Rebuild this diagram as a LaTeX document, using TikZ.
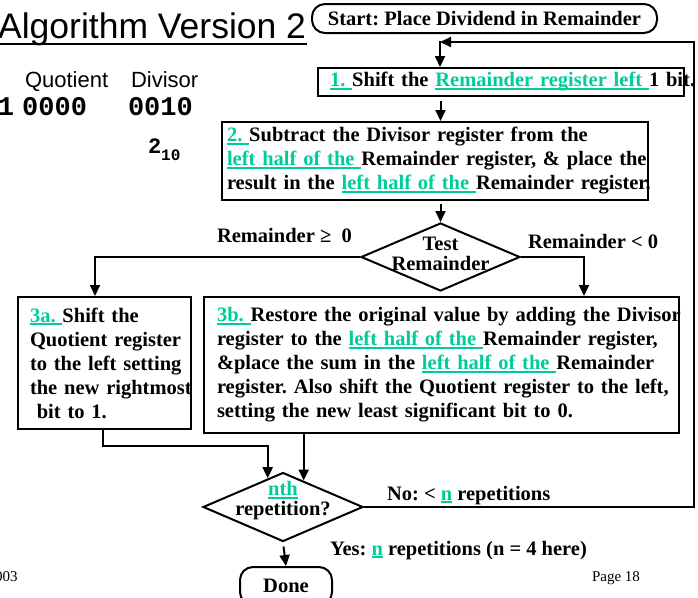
\documentclass[tikz,border=0pt]{standalone}
\usepackage{fontspec}
\setmainfont{Liberation Serif}
\newfontfamily\arialfont{Liberation Sans}
\newfontfamily\monofont{Liberation Mono}
\usetikzlibrary{shapes.geometric,arrows.meta}
\definecolor{grn}{RGB}{0,204,153}
\frenchspacing
\newcommand{\flowfont}{\fontsize{20.5}{24}\selectfont\bfseries}
\newcommand{\gul}[1]{{\color{grn}\setbox0\hbox{#1}\rlap{\rule[-3pt]{\wd0}{1.6pt}}\box0}}
\begin{document}
\begin{tikzpicture}[x=1pt,y=-1pt,line width=2pt,
  arr/.style={-{Triangle[length=11pt,width=10pt]}},
  box/.style={draw,rectangle,inner ysep=0pt,align=left,font=\flowfont},
  term/.style={draw,rounded corners=13pt,inner sep=0pt,font=\flowfont},
  dia/.style={draw,diamond,inner sep=0pt},
  lbl/.style={inner sep=0pt,font=\flowfont}]
  \useasboundingbox (0,0) rectangle (698,597);
  \clip (0,0) rectangle (698,597);
  \node[inner sep=0pt,anchor=base east,font=\fontsize{35.5}{35.5}\arialfont] (ttl) at (307,38) {Algorithm Version 2};
  \draw[line width=2.2pt] ([yshift=-6pt]ttl.base west) -- ([yshift=-6pt]ttl.base east);
  \node[inner sep=0pt,anchor=base west,font=\fontsize{22}{22}\arialfont] (quo) at (24,87) {Quotient};
  \node[inner sep=0pt,anchor=base west,font=\fontsize{22}{22}\arialfont] (div) at (130,87) {Divisor};
  \node[inner sep=0pt,anchor=base west,font=\fontsize{27}{27}\monofont\bfseries] (quov) at (-3,115) {1\hspace{8pt}0000};
  \node[inner sep=0pt,anchor=base west,font=\fontsize{27}{27}\monofont\bfseries] (divv) at (127,115) {0010};
  \node[inner sep=0pt,anchor=base west,font=\fontsize{22}{22}\monofont\bfseries] (dec) at (147,153) {2\raisebox{-7pt}{\fontsize{16}{16}\monofont 10}};
  \node[term,minimum width=345pt,minimum height=29pt] (start) at (484.5,18.5) {Start: Place Dividend in Remainder};
  \node[box,text width=342pt,inner xsep=12pt,minimum height=28pt] (box1) at (501,82)
    {\mbox{\gul{1. }Shift the \gul{Remainder register left }1 bit.}};
  \node[box,text width=416pt,inner xsep=5pt,minimum height=78pt] (box2) at (435,161)
    {\mbox{\gul{2. }Subtract the Divisor register from the}\\
     \mbox{\gul{left half of the }Remainder register, \& place the}\\
     \mbox{result in the \gul{left half of the }Remainder register.}};
  \node[dia,minimum width=159pt,minimum height=68pt] (test) at (440.5,257) {};
  \node[lbl,align=center,font=\fontsize{20.5}{20}\selectfont\bfseries] (testtxt) at ([yshift=3pt]test.center) {Test\\Remainder};
  \node[box,text width=149pt,inner xsep=12pt,minimum height=132pt] (box3a) at (104.5,363)
    {\mbox{\gul{3a. }Shift the}\\
     \mbox{Quotient register}\\
     \mbox{to the left setting}\\
     \mbox{the new rightmost}\\
     \mbox{\ bit to 1.}};
  \node[box,text width=449pt,inner xsep=13pt,minimum height=136pt] (box3b) at (441.5,365)
    {\mbox{\gul{3b. }Restore the original value by adding the Divisor}\\
     \mbox{register to the \gul{left half of the }Remainder register,}\\
     \mbox{\&place the sum in the \gul{left half of the }Remainder}\\
     \mbox{register. Also shift the Quotient register to the left,}\\
     \mbox{setting the new least significant bit to 0.}};
  \node[dia,minimum width=160pt,minimum height=69pt] (nth) at (283,507) {};
  \node[lbl,align=center,font=\fontsize{20.5}{20}\selectfont\bfseries] (nthtxt) at ([yshift=6pt]nth.center) {\gul{nth}\\repetition?};
  \node[term,minimum width=92pt,minimum height=38pt] (done) at (286,586) {Done};
  \node[lbl,anchor=base west] (ge) at (216,242) {Remainder ≥\ \ 0};
  \node[lbl,anchor=base west] (lt) at (527,248) {Remainder < 0};
  \node[lbl,anchor=base west] (no) at (386,500) {No: < \gul{n} repetitions};
  \node[lbl,anchor=base west] (yes) at (329,555) {Yes: \gul{n} repetitions (n = 4 here)};
  \node[inner sep=0pt,anchor=base west,font=\fontsize{15}{15}\selectfont] (yr) at (-6,581) {003};
  \node[inner sep=0pt,anchor=base west,font=\fontsize{15}{15}\selectfont] (pg) at (591,581) {Page 18};
  \coordinate (loopin) at (440,42);
  \coordinate (rt) at (694,42);
  \coordinate (c3a) at (95,0);
  \coordinate (c3b) at (584,0);
  \coordinate (m3a) at (103,0);
  \coordinate (low) at (0,446);
  \draw[arr,shorten <=7pt] (start.south -| loopin) -- (box1.north -| loopin);
  \draw[arr] (nth.east) -| (rt) -- (loopin);
  \draw[arr,shorten <=4pt] (box1.south -| test.north) -- (box2.north -| test.north);
  \draw[arr,shorten <=3pt] (box2.south -| test.north) -- (test.north);
  \draw[arr] (test.west) -| (box3a.north -| c3a);
  \draw[arr] (test.east) -| (box3b.north -| c3b);
  \draw[arr] (box3a.south -| m3a) |- (nth.118 |- low) -- (nth.118);
  \draw[arr] (box3b.south -| nth.52) -- (nth.52);
  \draw[arr,shorten <=4pt] (nth.south) -- (done.north);
\end{tikzpicture}
\end{document}
